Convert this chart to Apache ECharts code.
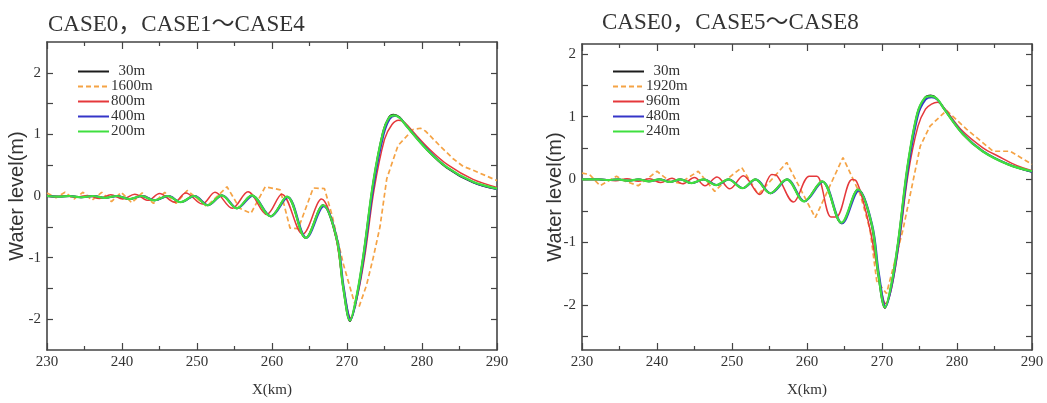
<!DOCTYPE html>
<html>
<head>
<meta charset="utf-8">
<script src="https://cdn.jsdelivr.net/npm/echarts@6/dist/echarts.min.js"></script>
<style>
  html, body { margin: 0; padding: 0; background: #ffffff; }
  #chart { width: 1047px; height: 403px; }
</style>
</head>
<body>
<div id="chart"></div>
<script>
// Panel titles and series names
const titleLeft = 'CASE0，CASE1～CASE4';
const titleRight = 'CASE0，CASE5～CASE8';
const namesLeft = ['30m', '1600m', '800m', '400m', '200m'];
const namesRight = ['30m', '1920m', '960m', '480m', '240m'];

// Axis ticks and labels
const xMin = 230, xMax = 290, xStep = 10;
const yLabelValues = [-2, -1, 0, 1, 2];
const yTicksLeft = [-2, -1.5, -1, -0.5, 0, 0.5, 1, 1.5, 2];
const yTicksRight = [-2.5, -2, -1.5, -1, -0.5, 0, 0.5, 1, 1.5, 2];
const yRangeLeft = [-2.5, 2.5];
const yRangeRight = [-2.72, 2.16];

// Water level (m) along X (km) — left panel
const left30m = [[230,0.0],[231.5,-0.01],[233.0,0.0],[234.5,-0.02],[236.1,0.0],[237.7,-0.03],[239.3,0.0],[241.0,-0.05],[242.6,0.0],[244.3,-0.07],[246.1,0.0],[247.8,-0.1],[249.6,0.0],[251.4,-0.15],[253.3,0.01],[255.3,-0.2],[257.3,0.01],[259.8,-0.33],[262.0,-0.01],[264.5,-0.68],[266.8,-0.15],[268.6,-0.7],[269.5,-1.5],[270.4,-2.03],[271.3,-1.62],[272.2,-0.95],[273.5,0.22],[274.8,1.04],[275.6,1.28],[276.2,1.32],[277.0,1.28],[277.9,1.14],[280.6,0.76],[283.3,0.46],[286.8,0.22],[290,0.11]];
const left1600m = [[230,0.05],[231.2,-0.03],[232.4,0.06],[233.6,-0.05],[234.8,0.06],[236.0,-0.07],[237.3,0.06],[238.6,-0.09],[239.9,0.06],[241.3,-0.11],[242.7,0.05],[244.2,-0.12],[245.7,0.06],[247.2,-0.12],[248.7,0.09],[251.3,-0.17],[254.0,0.15],[255.7,-0.2],[257.2,-0.28],[259.1,0.15],[261.1,0.1],[262.4,-0.52],[263.5,-0.53],[265.5,0.13],[267.0,0.12],[268.0,-0.31],[269.5,-1.1],[271.1,-1.78],[271.6,-1.8],[272.6,-1.45],[273.5,-1.0],[274.4,-0.5],[275.3,0.28],[276.8,0.82],[278.8,1.08],[279.8,1.1],[280.5,1.05],[282.5,0.8],[284.2,0.6],[285.5,0.48],[286.8,0.42],[288.5,0.33],[290,0.25]];
const left800m = [[230,0.0],[231.0,-0.01],[232.5,0.0],[233.9,-0.02],[235.4,0.01],[237.0,-0.04],[238.5,0.02],[240.1,-0.05],[241.7,0.03],[243.5,-0.07],[245.0,0.04],[247.0,-0.1],[248.5,0.05],[250.7,-0.13],[252.4,0.06],[254.7,-0.2],[256.8,0.07],[259.3,-0.3],[261.3,0.03],[264.1,-0.62],[266.6,-0.05],[268.4,-0.6],[269.5,-1.45],[270.5,-1.98],[271.4,-1.62],[272.4,-0.95],[273.6,0.1],[275.0,0.92],[276.0,1.16],[276.9,1.23],[277.7,1.19],[278.6,1.07],[281.0,0.76],[283.5,0.5],[286.8,0.27],[290,0.14]];
const left400m = [[230,0.0],[231.6,-0.01],[233.1,0.0],[234.6,-0.02],[236.2,0.0],[237.8,-0.03],[239.4,0.0],[241.1,-0.05],[242.7,0.0],[244.4,-0.07],[246.2,0.0],[247.9,-0.1],[249.7,0.0],[251.5,-0.15],[253.4,0.01],[255.4,-0.2],[257.4,0.0],[259.9,-0.33],[262.1,-0.02],[264.6,-0.68],[266.9,-0.17],[268.7,-0.7],[269.6,-1.5],[270.5,-2.0],[271.4,-1.6],[272.3,-0.95],[273.6,0.2],[274.9,1.0],[275.7,1.25],[276.4,1.3],[277.1,1.26],[278.0,1.13],[280.7,0.76],[283.4,0.46],[286.9,0.22],[290,0.11]];
const left200m = [[230,0.0],[231.5,-0.01],[233.0,0.0],[234.5,-0.02],[236.1,0.0],[237.7,-0.03],[239.3,0.0],[241.0,-0.05],[242.6,0.0],[244.3,-0.07],[246.1,0.0],[247.8,-0.1],[249.6,0.0],[251.4,-0.15],[253.3,0.01],[255.3,-0.2],[257.3,0.01],[259.8,-0.33],[262.0,-0.01],[264.5,-0.68],[266.8,-0.15],[268.6,-0.68],[269.5,-1.49],[270.4,-2.02],[271.3,-1.61],[272.2,-0.95],[273.5,0.23],[274.8,1.03],[275.6,1.27],[276.3,1.31],[277.0,1.27],[277.9,1.14],[280.6,0.76],[283.3,0.47],[286.8,0.23],[290,0.12]];

// Water level (m) along X (km) — right panel
const right30m = [[230,0.0],[231.0,0.0],[232.2,0.0],[233.5,-0.01],[234.8,0.0],[236.1,-0.02],[237.5,0.0],[238.9,-0.03],[240.3,0.0],[241.7,-0.04],[243.1,0.0],[244.6,-0.06],[246.2,0.0],[247.9,-0.09],[249.5,0.0],[251.4,-0.14],[253.1,0.0],[255.1,-0.22],[257.3,0.0],[259.6,-0.35],[262.0,-0.03],[264.6,-0.7],[266.8,-0.16],[268.6,-0.72],[269.5,-1.52],[270.4,-2.05],[271.3,-1.65],[272.2,-0.95],[273.4,0.2],[274.7,1.05],[275.7,1.3],[276.5,1.34],[277.3,1.29],[278.3,1.12],[280.8,0.72],[283.4,0.45],[286.8,0.24],[290,0.12]];
const right1920m = [[230,0.1],[231.0,0.08],[232.4,-0.1],[234.6,0.05],[235.8,-0.03],[237.5,-0.1],[240.0,0.13],[241.7,-0.03],[243.0,-0.06],[245.5,0.13],[247.7,-0.19],[249.3,0.0],[251.3,0.19],[253.5,-0.24],[255.3,0.0],[257.3,0.27],[261.1,-0.61],[264.8,0.35],[267.1,-0.24],[268.4,-0.8],[269.3,-1.62],[270.6,-1.82],[272.8,-0.8],[275.1,0.53],[276.4,0.85],[278.6,1.1],[281.3,0.8],[284.8,0.45],[287.1,0.45],[290,0.24]];
const right960m = [[230,0.0],[232.5,0.0],[234.5,-0.02],[236.0,0.01],[237.5,-0.03],[239.0,0.01],[240.5,-0.05],[242.0,0.02],[243.4,-0.07],[245.0,0.03],[246.4,-0.1],[248.0,0.04],[249.7,-0.15],[251.5,0.06],[253.7,-0.24],[255.3,0.08],[256.0,0.06],[258.2,-0.36],[260.3,0.05],[261.3,0.05],[263.2,-0.6],[263.9,-0.6],[266.0,0.0],[266.6,-0.03],[267.5,-0.35],[268.5,-0.85],[269.5,-1.5],[270.5,-1.98],[271.3,-1.72],[272.3,-1.0],[273.5,0.1],[274.8,0.85],[275.8,1.12],[276.6,1.2],[277.4,1.23],[278.3,1.14],[280.5,0.8],[283.5,0.5],[285.5,0.37],[288,0.22],[290,0.14]];
const right480m = [[230,0.0],[231.1,0.0],[232.3,0.0],[233.6,-0.01],[234.9,0.0],[236.2,-0.02],[237.6,0.0],[239.0,-0.03],[240.4,0.0],[241.8,-0.04],[243.2,0.0],[244.7,-0.06],[246.3,0.0],[248.0,-0.09],[249.6,0.0],[251.5,-0.14],[253.2,0.0],[255.2,-0.22],[257.4,0.0],[259.7,-0.35],[262.1,-0.04],[264.7,-0.7],[266.9,-0.18],[268.7,-0.72],[269.6,-1.5],[270.5,-2.03],[271.4,-1.64],[272.3,-0.95],[273.5,0.18],[274.8,1.02],[275.8,1.27],[276.6,1.31],[277.4,1.27],[278.4,1.11],[280.9,0.72],[283.5,0.45],[286.9,0.24],[290,0.12]];
const right240m = [[230,0.0],[231.0,0.0],[232.2,0.0],[233.5,-0.01],[234.8,0.0],[236.1,-0.02],[237.5,0.0],[238.9,-0.03],[240.3,0.0],[241.7,-0.04],[243.1,0.0],[244.6,-0.06],[246.2,0.0],[247.9,-0.09],[249.5,0.0],[251.4,-0.14],[253.1,0.0],[255.1,-0.22],[257.3,0.0],[259.6,-0.35],[262.0,-0.03],[264.6,-0.69],[266.8,-0.16],[268.6,-0.7],[269.5,-1.5],[270.4,-2.04],[271.3,-1.64],[272.2,-0.95],[273.4,0.21],[274.7,1.05],[275.7,1.3],[276.6,1.33],[277.4,1.28],[278.3,1.12],[280.8,0.72],[283.4,0.45],[286.8,0.24],[290,0.13]];

const dataLeft = [left30m, left1600m, left800m, left400m, left200m];
const dataRight = [right30m, right1920m, right960m, right480m, right240m];

// Line styles shared by both panels (30m, coarse dashed, red, blue, green)
const lineColors = ['#1c1c1c', '#f5a345', '#e5383b', '#3535c8', '#3fdf3f'];
const lineWidths = [1.8, 1.7, 1.5, 1.8, 2.2];
const lineTypes = ['solid', [5, 3], 'solid', 'solid', 'solid'];
const lineSmooth = [0.35, false, 0.35, 0.35, 0.35];

const serifFont = "'Liberation Serif', 'Times New Roman', 'Noto Sans CJK JP', serif";
const axisColor = '#444444';

const grids = [
  { left: 47, top: 42, width: 450, height: 311 },
  { left: 582, top: 44, width: 450, height: 308 }
];

function xAxesFor(gridIndex) {
  const common = {
    type: 'value', gridIndex, min: xMin, max: xMax, interval: xStep,
    axisLine: { show: true, onZero: false, lineStyle: { color: axisColor, width: 1.6 } },
    axisTick: { show: true, inside: true, length: 7, lineStyle: { color: axisColor, width: 1.2 } },
    minorTick: { show: true, splitNumber: 2, length: 4, lineStyle: { color: axisColor, width: 1.2 } },
    splitLine: { show: false }, minorSplitLine: { show: false }
  };
  return [
    Object.assign({}, common, {
      position: 'bottom',
      name: 'X(km)', nameLocation: 'middle', nameGap: 33, nameMoveOverlap: false,
      nameTextStyle: { fontFamily: serifFont, fontSize: 15, color: '#333' },
      axisLabel: { show: true, fontFamily: serifFont, fontSize: 15, color: '#333', margin: 5 }
    }),
    Object.assign({}, common, { position: 'top', axisLabel: { show: false } })
  ];
}

function yAxesFor(gridIndex, range, ticks, nameGap) {
  const common = {
    type: 'value', gridIndex, min: range[0], max: range[1],
    axisLine: { show: true, onZero: false, lineStyle: { color: axisColor, width: 1.6 } },
    axisTick: { show: true, inside: true, length: 6, customValues: ticks, lineStyle: { color: axisColor, width: 1.2 } },
    splitLine: { show: false }
  };
  return [
    Object.assign({}, common, {
      position: 'left',
      name: 'Water level(m)', nameLocation: 'middle', nameGap: nameGap, nameMoveOverlap: false,
      nameTextStyle: { fontFamily: "'Liberation Sans', Arial, sans-serif", fontSize: 20, color: '#333' },
      axisLabel: { show: true, customValues: yLabelValues, fontFamily: serifFont, fontSize: 15, color: '#333', margin: 6 }
    }),
    Object.assign({}, common, { position: 'right', axisLabel: { show: false } })
  ];
}

function seriesFor(names, data, gridIdx) {
  return names.map((name, i) => ({
    type: 'line', name,
    xAxisIndex: gridIdx * 2, yAxisIndex: gridIdx * 2,
    data: data[i],
    symbol: 'none', showSymbol: false,
    smooth: lineSmooth[i],
    lineStyle: { color: lineColors[i], width: lineWidths[i], type: lineTypes[i] },
    itemStyle: { color: lineColors[i] },
    silent: true, animation: false
  }));
}

function legendFor(names, left) {
  return {
    orient: 'vertical', left, top: 64, padding: 0,
    data: names,
    itemWidth: 31, itemHeight: 10, itemGap: 0,
    itemStyle: { opacity: 0 },
    formatter: n => (n === '30m' ? '  ' + n : n),
    textStyle: { fontFamily: serifFont, fontSize: 15, color: '#333', lineHeight: 14.5, padding: [0, 0, 0, -3] },
    selectedMode: false
  };
}

const chart = echarts.init(document.getElementById('chart'), null, { renderer: 'canvas' });
chart.setOption({
  backgroundColor: '#ffffff',
  animation: false,
  title: [
    { text: titleLeft, left: 43, top: 8, textStyle: { fontFamily: serifFont, fontSize: 23, fontWeight: 'normal', color: '#333' } },
    { text: titleRight, left: 597, top: 6, textStyle: { fontFamily: serifFont, fontSize: 23, fontWeight: 'normal', color: '#333' } }
  ],
  legend: [legendFor(namesLeft, 77), legendFor(namesRight, 612)],
  grid: grids,
  xAxis: xAxesFor(0).concat(xAxesFor(1)),
  yAxis: yAxesFor(0, yRangeLeft, yTicksLeft, 20).concat(yAxesFor(1, yRangeRight, yTicksRight, 17)),
  series: seriesFor(namesLeft, dataLeft, 0).concat(seriesFor(namesRight, dataRight, 1))
});
</script>
</body>
</html>
